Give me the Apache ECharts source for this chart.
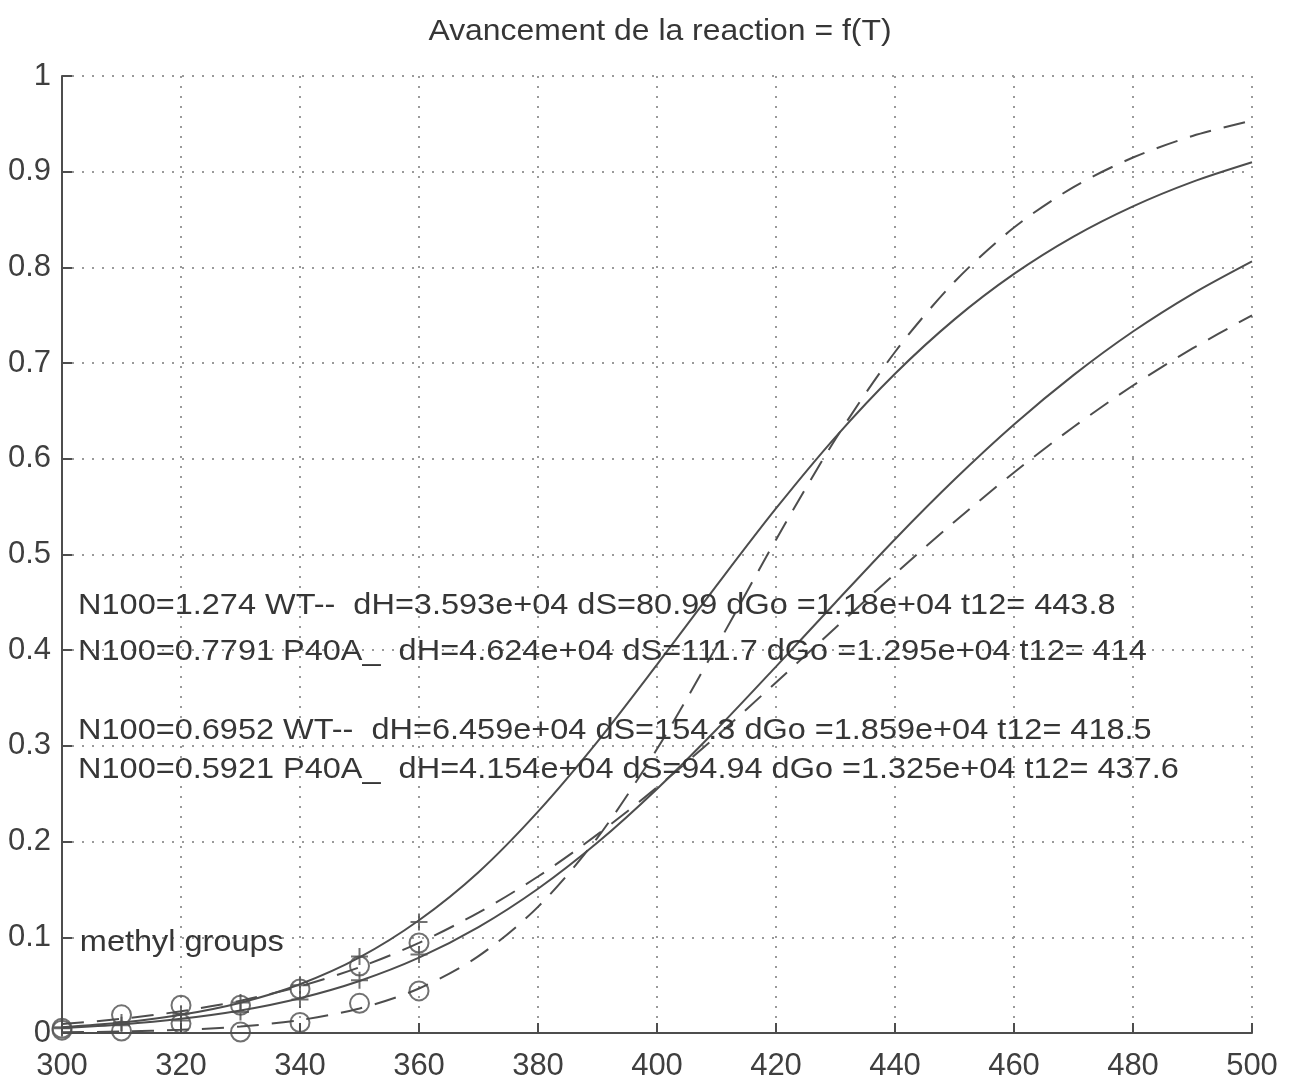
<!DOCTYPE html>
<html><head><meta charset="utf-8">
<script src="https://cdn.jsdelivr.net/npm/echarts@6/dist/echarts.min.js"></script>
<style>html,body{margin:0;padding:0;background:#fff}#c{width:1295px;height:1083px}</style>
</head><body><div id="c"></div>
<script>
// Temperatures (K) of the fitted curves
const temperatures = [300,310,320,330,340,350,360,370,380,390,400,410,420,430,440,450,460,470,480,490,500];
// Fitted curves
const wtSteepFit   = [0.0007,0.0015,0.0033,0.0068,0.0135,0.0256,0.0465,0.0803,0.1318,0.2041,0.2967,0.4039,0.5155,0.6206,0.7116,0.7850,0.8416,0.8839,0.9148,0.9373,0.9535]; // WT N100=0.6952
const p40aUpperFit = [0.0060,0.0109,0.0190,0.0317,0.0510,0.0790,0.1178,0.1680,0.2313,0.3045,0.3849,0.4675,0.5481,0.6227,0.6889,0.7457,0.7932,0.8322,0.8638,0.8894,0.9099]; // P40A N100=0.7791
const p40aLowerFit = [0.0053,0.0090,0.0149,0.0236,0.0364,0.0544,0.0787,0.1106,0.1507,0.1990,0.2550,0.3171,0.3829,0.4499,0.5160,0.5783,0.6358,0.6874,0.7330,0.7724,0.8063]; // P40A N100=0.5921
const wtShallowFit = [0.0093,0.0148,0.0227,0.0338,0.0488,0.0687,0.0942,0.1258,0.1635,0.2075,0.2567,0.3102,0.3663,0.4234,0.4798,0.5342,0.5857,0.6332,0.6766,0.7153,0.7499]; // WT N100=1.274
// Measured points (methyl groups)
const obsTemperatures = [300,310,320,330,340,350,360];
const wtObsUpper   = [0.005,0.019,0.029,0.029,0.046,0.070,0.094];
const wtObsLower   = [0.003,0.002,0.010,0.001,0.011,0.031,0.044];
const p40aObsUpper = [0.006,0.011,0.020,0.032,0.050,0.080,0.116];
const p40aObsLower = [0.005,0.008,0.013,0.022,0.035,0.055,0.082];
// Tick settings
const xTicks = {min:300, max:500, interval:20};
const yTicks = {min:0, max:1, interval:0.1};
// Text annotations (data coordinates)
const titleText = 'Avancement de la reaction = f(T)';
const annotationTexts = [
  'N100=1.274 WT--  dH=3.593e+04 dS=80.99 dGo =1.18e+04 t12= 443.8',
  'N100=0.7791 P40A_  dH=4.624e+04 dS=111.7 dGo =1.295e+04 t12= 414',
  'N100=0.6952 WT--  dH=6.459e+04 dS=154.3 dGo =1.859e+04 t12= 418.5',
  'N100=0.5921 P40A_  dH=4.154e+04 dS=94.94 dGo =1.325e+04 t12= 437.6',
  'methyl groups'
];
const annotationX = [302.7,302.7,302.7,302.7,303];
const annotationY = [0.446,0.398,0.316,0.275,0.094];

const pairs = (xs, ys) => xs.map((x, i) => [x, ys[i]]);
const FONT = '"Liberation Sans", Arial, Helvetica, sans-serif';
const LINE = '#4d4d4d';
const TEXT = '#363636';
const chart = echarts.init(document.getElementById('c'), null, {renderer:'canvas'});

const lineSeries = (data, type) => ({
  type:'line', data, symbol:'none', smooth:0.3, z:3,
  lineStyle:{color:LINE, width:2, type}
});
const markerSeries = (data, symbol, size) => ({
  type:'scatter', data, symbol, symbolSize:size, z:4,
  itemStyle:{color:'rgba(0,0,0,0)', borderColor:LINE, borderWidth:2}
});
const PLUS = 'path://M0,-10L0,10M-10,0L10,0';

chart.setOption({
  animation:false,
  backgroundColor:'#ffffff',
  grid:{left:62, right:43, top:76, bottom:50, containLabel:false},
  xAxis:{type:'value', min:xTicks.min, max:xTicks.max, interval:xTicks.interval,
    axisLine:{show:true, onZero:false, lineStyle:{color:LINE, width:2}},
    axisTick:{show:true, inside:true, length:10, lineStyle:{color:LINE, width:2}},
    axisLabel:{fontFamily:FONT, fontSize:31, color:'#3f3f3f', margin:18},
    splitLine:{show:true, lineStyle:{color:'#9a9a9a', width:2, type:[2,8]}}},
  yAxis:{type:'value', min:yTicks.min, max:yTicks.max, interval:yTicks.interval,
    axisLine:{show:true, onZero:false, lineStyle:{color:LINE, width:2}},
    axisTick:{show:true, inside:true, length:10, lineStyle:{color:LINE, width:2}},
    axisLabel:{fontFamily:FONT, fontSize:31, color:'#3f3f3f', margin:11},
    splitLine:{show:true, lineStyle:{color:'#9a9a9a', width:2, type:[2,8]}}},
  series:[
    lineSeries(pairs(temperatures, wtSteepFit), [22,13]),
    lineSeries(pairs(temperatures, p40aUpperFit), 'solid'),
    lineSeries(pairs(temperatures, p40aLowerFit), 'solid'),
    lineSeries(pairs(temperatures, wtShallowFit), [22,13]),
    markerSeries(pairs(obsTemperatures, wtObsUpper), 'circle', 19),
    markerSeries(pairs(obsTemperatures, wtObsLower), 'circle', 19),
    markerSeries(pairs(obsTemperatures, p40aObsUpper), PLUS, 17),
    markerSeries(pairs(obsTemperatures, p40aObsLower), PLUS, 17)
  ]
});

const graphics = annotationTexts.map((t, i) => {
  const p = chart.convertToPixel({gridIndex:0}, [annotationX[i], annotationY[i]]);
  return {type:'text', x:p[0], y:p[1], scaleX:1.12, z:10,
    style:{text:t, font:'29px ' + FONT, fill:TEXT, textAlign:'left', verticalAlign:'middle', textVerticalAlign:'middle'}};
});
graphics.push({type:'text', x:660, y:32, scaleX:1.1, z:10,
  style:{text:titleText, font:'29px ' + FONT, fill:TEXT, textAlign:'center', verticalAlign:'middle', textVerticalAlign:'middle'}});
chart.setOption({graphic:graphics});
</script></body></html>
